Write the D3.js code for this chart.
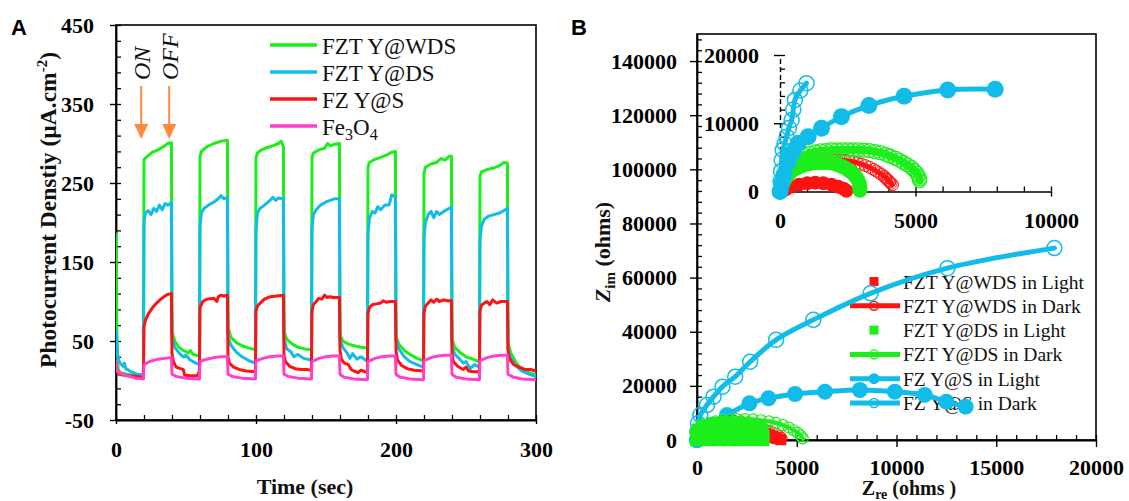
<!DOCTYPE html>
<html>
<head>
<meta charset="utf-8">
<script src="https://cdn.jsdelivr.net/npm/d3@7/dist/d3.min.js"></script>
<style>
  body { margin: 0; background: #fff; }
  svg { display: block; }
  .serif { font-family: "Liberation Serif", "Times New Roman", Times, "DejaVu Serif", serif; }
  .sans { font-family: "Liberation Sans", Arial, sans-serif; }
</style>
</head>
<body>
<svg id="chart" width="1129" height="501"></svg>
<script>
// ---------- panel A: photocurrent vs time, [t (s), j (µA/cm²)] ----------
const timeTicks = [0, 100, 200, 300];
const currentTicks = [-50, 50, 150, 250, 350, 450];
const switchTimes = [18, 38];
const switchLabels = ["ON", "OFF"];

const traceWDS = [
  [0,187],[0.6,60],[1.5,15],[3,10],[8,8],[14,6],[19.6,5],
  [20,280],[22,283],[26,289],[30,292],[34,296],[37,300],[39.6,301],
  [40,62],[42,50],[45,42],[48,38],[52,35],[53,38],[55,33],[59.6,31],
  [60,283],[61,290],[65,296],[70,300],[75,303],[79.6,304],
  [80,68],[82,55],[86,48],[90,44],[95,41],[99.6,39],
  [100,282],[101,288],[104,292],[108,295],[112,297],[116,300],[118,303],[119.6,296],
  [120,62],[122,52],[126,46],[130,42],[135,40],[139.6,39],
  [140,282],[141,288],[145,292],[149,294],[151,300],[153,297],[156,299],[159.6,300],
  [160,58],[162,50],[166,46],[170,44],[175,42],[179.6,41],
  [180,270],[181,276],[185,280],[190,283],[194,286],[197,289],[199.6,290],
  [200,56],[202,46],[206,38],[210,33],[215,28],[219.6,25],
  [220,262],[221,270],[225,274],[229,276],[232,281],[235,279],[238,284],[239.6,284],
  [240,52],[242,42],[246,35],[250,30],[255,27],[259.6,24],
  [260,258],[261,264],[265,267],[270,269],[274,272],[277,276],[279.6,275],
  [280,48],[282,35],[286,22],[290,14],[295,10],[300,7]
];
const traceDS = [
  [0,64],[1,35],[2,25],[3,22],[4,20],[5,18],[6,22],[7,15],[10,12],[15,8],[19.6,7],
  [20,200],[21,212],[23,215],[25,210],[27,218],[29,214],[31,222],[33,216],[35,224],[37,222],[39.6,225],
  [40,55],[42,42],[45,35],[48,30],[50,32],[53,26],[56,23],[59.6,20],
  [60,195],[61,212],[63,218],[66,222],[70,226],[73,230],[75,234],[77,230],[79.6,232],
  [80,55],[82,45],[86,36],[90,30],[95,25],[99.6,22],
  [100,190],[101,212],[103,218],[106,222],[110,228],[112,232],[114,228],[116,231],[119.6,230],
  [120,52],[122,40],[125,36],[127,30],[130,33],[134,28],[139.6,26],
  [140,192],[141,210],[143,216],[146,222],[150,226],[153,228],[156,230],[159.6,230],
  [160,52],[162,42],[165,35],[167,28],[169,34],[172,27],[175,30],[179.6,24],
  [180,185],[181,205],[183,214],[185,212],[187,220],[189,216],[192,222],[195,222],[197,235],[199.6,232],
  [200,52],[202,40],[206,30],[210,24],[215,20],[219.6,17],
  [220,180],[221,200],[223,210],[225,214],[227,206],[229,214],[231,210],[234,214],[237,217],[239.6,219],
  [240,44],[242,33],[245,28],[248,22],[250,24],[253,15],[256,20],[259.6,17],
  [260,178],[261,195],[263,204],[266,208],[270,210],[274,212],[277,215],[279.6,218],
  [280,40],[282,28],[286,18],[290,12],[295,8],[300,5]
];
const traceS = [
  [0,12],[2,8],[5,7],[10,6],[15,5],[19.6,4],
  [20,68],[21,76],[23,84],[26,92],[29,98],[32,103],[35,107],[37,109],[39.6,110],
  [40,34],[41,24],[43,17],[46,15],[48,14],[49,7],[53,6],[56,6],[58,6],[59.6,12],
  [60,92],[61,96],[62,100],[65,103],[70,104],[72,100],[73,106],[75,108],[77,107],[79.6,108],
  [80,30],[81,22],[84,17],[88,14],[93,12],[99.6,11],
  [100,88],[101,94],[103,98],[106,103],[110,106],[115,107],[119.6,108],
  [120,32],[121,24],[124,18],[128,15],[132,14],[136,14],[139.6,13],
  [140,88],[141,96],[143,100],[145,104],[147,103],[149,108],[151,105],[153,106],[155,105],[159.6,105],
  [160,38],[161,27],[163,22],[166,20],[168,14],[170,12],[173,10],[175,13],[179.6,10],
  [180,85],[181,92],[183,96],[186,97],[189,98],[191,101],[193,99],[196,100],[199.6,100],
  [200,38],[201,26],[204,19],[208,15],[213,13],[219.6,12],
  [220,86],[221,94],[223,98],[225,102],[227,99],[229,103],[231,100],[234,102],[237,101],[239.6,101],
  [240,34],[241,24],[244,18],[248,14],[250,17],[252,12],[255,11],[259.6,11],
  [260,88],[261,95],[263,98],[265,100],[267,96],[269,102],[272,98],[275,100],[279.6,100],
  [280,38],[281,28],[284,20],[288,17],[292,14],[296,14],[300,12]
];
const traceFe = [
  [0,26],[1,12],[3,9],[8,6],[14,3],[19.6,2],
  [20,20],[24,24],[30,27],[35,28],[39.6,29],
  [40,8],[43,5],[50,3],[59.6,2],
  [60,24],[65,27],[70,29],[75,30],[79.6,30],
  [80,8],[83,5],[90,3],[99.6,2],
  [100,25],[105,28],[110,30],[115,31],[119.6,31],
  [120,8],[123,5],[130,3],[139.6,2],
  [140,24],[145,28],[150,30],[155,31],[159.6,31],
  [160,8],[163,4],[170,2],[179.6,1],
  [180,24],[185,28],[190,30],[195,31],[199.6,31],
  [200,8],[203,4],[210,2],[219.6,1],
  [220,25],[225,29],[230,31],[235,32],[239.6,32],
  [240,8],[243,4],[250,2],[259.6,1],
  [260,25],[265,29],[270,31],[275,32],[279.6,32],
  [280,8],[284,4],[290,2],[300,1]
];

// ---------- panel B: Nyquist plots, [Zre, Zim] in ohms ----------
const zreTicks = [0, 5000, 10000, 15000, 20000];
const zimTicks = [0, 20000, 40000, 60000, 80000, 100000, 120000, 140000];
const insetZreTicks = [0, 5000, 10000];
const insetZimTicks = [0, 10000, 20000];

const sDarkMain = [
  [0,0],[20,3000],[50,6200],[165,9200],[500,12900],[830,16000],[1280,19700],[1915,23400],
  [2665,28900],[3965,37000],[5830,44400],[8700,54200],[12550,63500],[17915,70900]
];
const sLightMain = [
  [0,0],[300,2500],[700,5500],[1500,9200],[2630,13560],[3580,15400],[4915,17000],
  [6415,17860],[8165,18480],[9915,17860],[11415,16640],[12500,14160],[13465,12310]
];
const wdsLightMain = [
  [300,600],[900,900],[1600,700],[2300,700],[3000,900],[3600,900],[4000,500],[4200,100]
];
const wdsDarkMain = [
  [0,0],[150,1800],[300,3000],[550,4200],[800,5200],[1100,6100],[1400,6800],[1650,7200],
  [1900,7400],[2200,7300],[2500,6800],[2800,6100],[3100,5200],[3350,4500],[3600,3800],
  [3800,3200],[4000,2600],[4150,1800],[4250,1200],[4300,500]
];
const dsLightMain = [
  [0,300],[0,2000],[100,3500],[300,4600],[500,5300],[800,5800],[1100,6000],[1400,6100],
  [1700,6100],[2000,6100],[2300,6000],[2600,5700],[2850,5200],[3050,4500],[3200,3500],
  [3250,2400],[3280,1300],[3280,300],
  [400,1200],[800,2400],[1200,2800],[1600,2800],[2000,2800],[2400,2600],[2800,1800],
  [600,300],[1100,300],[1600,300],[2100,300],[2700,300]
];
const dsDarkMain = [
  [0,0],[80,2000],[200,3600],[400,5000],[650,6100],[950,6900],[1300,7400],[1650,7600],
  [2000,7700],[2400,7700],[2800,7600],[3200,7300],[3600,6900],[3950,6300],[4300,5500],
  [4600,4600],[4850,3600],[5050,2600],[5200,1600],[5300,600]
];

const sDarkInset = [
  [0,0],[20,1500],[40,3000],[62,4600],[100,6090],[170,7000],[245,8040],[330,9300],
  [429,10480],[490,12000],[551,13420],[750,14800],[980,15870]
];
const sLightInset = [
  [0,0],[60,1200],[150,2500],[300,4300],[480,5800],[673,7070],[1040,8040],[1533,9270],
  [2268,10970],[3280,12600],[4580,13950],[6190,14880],[7940,14990]
];
const wdsDarkInset = [
  [0,0],[80,800],[150,1500],[250,2100],[350,2600],[480,3000],[600,3400],[750,3700],
  [900,3950],[1050,4150],[1200,4300],[1350,4450],[1500,4550],[1650,4600],[1800,4650],
  [1950,4650],[2100,4650],[2250,4600],[2400,4550],[2550,4450],[2700,4350],[2850,4200],
  [3000,4000],[3150,3800],[3300,3550],[3450,3250],[3550,3000],[3650,2750],[3750,2500],
  [3850,2200],[3900,2000],[3950,1800],[4000,1600],[4050,1400],[4100,1200],[4150,1000]
];
const wdsLightInset = [
  [200,300],[400,700],[700,1000],[1000,1200],[1300,1300],[1600,1200],[1900,1000],
  [2150,700],[2350,400],[2450,100]
];
const dsLightInset = [
  [0,0],[40,500],[80,900],[130,1400],[200,1900],[280,2400],[380,2800],[500,3200],
  [650,3500],[800,3750],[950,3950],[1100,4100],[1250,4200],[1400,4250],[1550,4250],
  [1700,4250],[1850,4200],[2000,4100],[2150,3900],[2300,3650],[2450,3350],[2580,3000],
  [2700,2600],[2800,2150],[2880,1650],[2930,1100],[2950,600],[2950,200]
];
const dsDarkInset = [
  [0,0],[100,1300],[200,2500],[350,3500],[500,4300],[700,4900],[900,5300],[1100,5600],
  [1300,5800],[1500,5950],[1700,6000],[1900,6100],[2100,6100],[2300,6100],[2500,6100],
  [2700,6100],[2900,6100],[3100,6050],[3300,6000],[3500,5850],[3700,5700],[3900,5450],
  [4050,5200],[4250,4900],[4400,4600],[4550,4250],[4700,3900],[4850,3500],[4950,3100],
  [5050,2700],[5100,2300],[5150,1900],[5150,1600]
];

const GREEN = "#1cee1c", CYAN = "#12bce9", RED = "#ff1212", PINK = "#ff3fd0", ORANGE = "#ff8a3c";
const plainFmt = d => String(d);   // hyphen minus, no thousands separator

const svg = d3.select("#chart");

function styleAxis(g, fontSize) {
  g.attr("font-family", null);
  g.select(".domain").attr("stroke", "#000").attr("stroke-width", 1.8);
  g.selectAll(".tick line").attr("stroke", "#000").attr("stroke-width", 1.4);
  g.selectAll(".tick text")
    .attr("class", "serif").attr("font-weight", "bold")
    .attr("font-size", fontSize).attr("fill", "#000");
}

function minorTicks(g, axis) {
  g.call(axis);
  g.select(".domain").remove();
  g.selectAll(".tick text").remove();
  g.selectAll(".tick line").attr("stroke", "#000").attr("stroke-width", 1.3);
}

// ================= Panel A =================
const ax = d3.scaleLinear().domain([0, 300]).range([116, 536]);
const ay = d3.scaleLinear().domain([-50, 450]).range([420, 25]);
const gA = svg.append("g");

gA.append("defs").append("clipPath").attr("id", "clipA")
  .append("rect")
  .attr("x", ax.range()[0]).attr("y", ay.range()[1])
  .attr("width", ax.range()[1] - ax.range()[0])
  .attr("height", ay.range()[0] - ay.range()[1]);

gA.append("rect")
  .attr("x", ax.range()[0]).attr("y", ay.range()[1])
  .attr("width", ax.range()[1] - ax.range()[0])
  .attr("height", ay.range()[0] - ay.range()[1])
  .attr("fill", "none").attr("stroke", "#000").attr("stroke-width", 1.6);

minorTicks(gA.append("g").attr("transform", `translate(${ax.range()[0]},0)`),
  d3.axisLeft(ay).tickValues(d3.range(-50, 451, 20)).tickSize(-5).tickSizeOuter(0));
minorTicks(gA.append("g").attr("transform", `translate(0,${ay.range()[0]})`),
  d3.axisBottom(ax).tickValues(d3.range(0, 301, 20)).tickSize(-5).tickSizeOuter(0));

const aYAxis = gA.append("g").attr("transform", `translate(${ax.range()[0]},0)`)
  .call(d3.axisLeft(ay).tickValues(currentTicks).tickFormat(plainFmt)
    .tickSize(6).tickPadding(16).tickSizeOuter(0));
styleAxis(aYAxis, 22);
const aXAxis = gA.append("g").attr("transform", `translate(0,${ay.range()[0]})`)
  .call(d3.axisBottom(ax).tickValues(timeTicks).tickFormat(plainFmt)
    .tickSize(4).tickPadding(17).tickSizeOuter(0));
styleAxis(aXAxis, 22);

const lineA = d3.line().x(d => ax(d[0])).y(d => ay(d[1]));
const tracesA = [
  { name: ["FZT Y@WDS"], data: traceWDS, color: GREEN },
  { name: ["FZT Y@DS"], data: traceDS, color: CYAN },
  { name: ["FZ Y@S"], data: traceS, color: RED },
  { name: ["Fe", "3", "O", "4"], data: traceFe, color: PINK }
];
const plotA = gA.append("g").attr("clip-path", "url(#clipA)");
tracesA.forEach(s => {
  plotA.append("path").attr("d", lineA(s.data))
    .attr("fill", "none").attr("stroke", s.color).attr("stroke-width", 3)
    .attr("stroke-linejoin", "round");
});

// legend A
tracesA.forEach((s, i) => {
  const y = 45 + i * 27;
  gA.append("line").attr("x1", 270).attr("x2", 317).attr("y1", y).attr("y2", y)
    .attr("stroke", s.color).attr("stroke-width", 3.5);
  const t = gA.append("text").attr("class", "serif").attr("x", 322).attr("y", y + 8.5)
    .attr("font-size", 23).attr("fill", "#111");
  s.name.forEach((part, k) => {
    const sub = k % 2 === 1;
    t.append("tspan").attr("font-size", sub ? 16 : 23)
      .attr("dy", sub ? 5 : (k > 0 ? -5 : 0)).text(part);
  });
});

// ON / OFF arrows
switchTimes.forEach((t, i) => {
  const x = ax(t);
  gA.append("line").attr("x1", x).attr("x2", x).attr("y1", 86).attr("y2", 125)
    .attr("stroke", ORANGE).attr("stroke-width", 2);
  gA.append("path").attr("d", `M${x - 7},124 L${x + 7},124 L${x},139 Z`).attr("fill", ORANGE);
  gA.append("text").attr("class", "serif")
    .attr("transform", `translate(${x + 9},80) rotate(-90)`)
    .attr("font-style", "italic").attr("font-size", 24)
    .attr("fill", "#111").text(switchLabels[i]);
});

// titles A
const aYTitle = gA.append("text").attr("class", "serif")
  .attr("transform", "translate(56,210) rotate(-90)")
  .attr("text-anchor", "middle").attr("font-weight", "bold")
  .attr("font-size", 23.5).attr("fill", "#111");
aYTitle.append("tspan").text("Photocurrent Denstiy (µA.cm");
aYTitle.append("tspan").attr("font-size", 15).attr("dy", -9).text("-2");
aYTitle.append("tspan").attr("dy", 9).text(")");

gA.append("text").attr("class", "serif").attr("x", 305).attr("y", 494)
  .attr("text-anchor", "middle").attr("font-weight", "bold").attr("font-size", 22)
  .attr("fill", "#111").text("Time (sec)");

svg.append("text").attr("class", "sans").attr("x", 11).attr("y", 35)
  .attr("font-weight", "bold").attr("font-size", 22).text("A");

// ================= Panel B =================
const bx = d3.scaleLinear().domain([0, 20000]).range([697, 1096]);
const by = d3.scaleLinear().domain([0, 150000]).range([440, 34]);
const ix = d3.scaleLinear().domain([0, 10000]).range([780, 1051]);
const iy = d3.scaleLinear().domain([0, 20000]).range([191.5, 55]);
const gB = svg.append("g");

gB.append("rect")
  .attr("x", bx.range()[0]).attr("y", by.range()[1])
  .attr("width", bx.range()[1] - bx.range()[0])
  .attr("height", by.range()[0] - by.range()[1])
  .attr("fill", "none").attr("stroke", "#000").attr("stroke-width", 1.6);

minorTicks(gB.append("g").attr("transform", `translate(${bx.range()[0]},0)`),
  d3.axisLeft(by).tickValues(d3.range(0, 150001, 4000)).tickSize(-5).tickSizeOuter(0));
minorTicks(gB.append("g").attr("transform", `translate(0,${by.range()[0]})`),
  d3.axisBottom(bx).tickValues(d3.range(0, 20001, 1000)).tickSize(-5).tickSizeOuter(0));

const bYAxis = gB.append("g").attr("transform", `translate(${bx.range()[0]},0)`)
  .call(d3.axisLeft(by).tickValues(zimTicks).tickFormat(plainFmt)
    .tickSize(7).tickPadding(13).tickSizeOuter(0));
styleAxis(bYAxis, 22);
const bXAxis = gB.append("g").attr("transform", `translate(0,${by.range()[0]})`)
  .call(d3.axisBottom(bx).tickValues(zreTicks).tickFormat(plainFmt)
    .tickSize(7).tickPadding(12).tickSizeOuter(0));
styleAxis(bXAxis, 22);

// inset axes
minorTicks(gB.append("g").attr("transform", `translate(${ix.range()[0]},0)`),
  d3.axisLeft(iy).tickValues(d3.range(0, 20001, 2000)).tickSize(-5).tickSizeOuter(0));
minorTicks(gB.append("g").attr("transform", `translate(0,${iy.range()[0]})`),
  d3.axisBottom(ix).tickValues(d3.range(0, 10001, 1000)).tickSize(-5).tickSizeOuter(0));
const iYAxis = gB.append("g").attr("transform", `translate(${ix.range()[0]},0)`)
  .call(d3.axisLeft(iy).tickValues(insetZimTicks).tickFormat(plainFmt)
    .tickSize(6).tickPadding(15).tickSizeOuter(0));
styleAxis(iYAxis, 22);
iYAxis.select(".domain").attr("stroke-dasharray", "5,3").attr("stroke-width", 1.4);
const iXAxis = gB.append("g").attr("transform", `translate(0,${iy.range()[0]})`)
  .call(d3.axisBottom(ix).tickValues(insetZreTicks).tickFormat(plainFmt)
    .tickSize(5).tickPadding(16).tickSizeOuter(0));
styleAxis(iXAxis, 22);
iXAxis.select(".domain").attr("stroke-width", 1.5);

// legend B (drawn under the data, as in the original)
const legendB = [
  { label: "FZT Y@WDS in Light", color: RED, line: false, marker: "square" },
  { label: "FZT Y@WDS in Dark", color: RED, line: true, marker: "open" },
  { label: "FZT Y@DS in Light", color: GREEN, line: false, marker: "square" },
  { label: "FZT Y@DS in Dark", color: GREEN, line: true, marker: "open" },
  { label: "FZ Y@S in Light", color: CYAN, line: true, marker: "filled" },
  { label: "FZ Y@S in Dark", color: CYAN, line: true, marker: "open" }
];
legendB.forEach((d, i) => {
  const y = 281.5 + i * 24.3;
  const cx = 874;
  if (d.line) {
    gB.append("line").attr("x1", 850).attr("x2", 900).attr("y1", y).attr("y2", y)
      .attr("stroke", d.color).attr("stroke-width", 5);
  }
  if (d.marker === "square") {
    gB.append("rect").attr("x", cx - 4.5).attr("y", y - 4.5).attr("width", 9).attr("height", 9)
      .attr("fill", d.color);
  } else if (d.marker === "filled") {
    gB.append("circle").attr("cx", cx).attr("cy", y).attr("r", 5.5).attr("fill", d.color);
  } else {
    gB.append("circle").attr("cx", cx).attr("cy", y).attr("r", 4.5)
      .attr("fill", "none").attr("stroke", d.color).attr("stroke-width", 1.4);
  }
  gB.append("text").attr("class", "serif").attr("x", 903).attr("y", y + 7)
    .attr("font-size", 19.5).attr("fill", "#111").text(d.label);
});

function drawSeries(g, data, xs, ys, o) {
  if (o.lineWidth) {
    g.append("path")
      .attr("d", d3.line().x(d => xs(d[0])).y(d => ys(d[1])).curve(d3.curveCatmullRom)(data))
      .attr("fill", "none").attr("stroke", o.color).attr("stroke-width", o.lineWidth)
      .attr("stroke-linejoin", "round").attr("stroke-linecap", "round");
  }
  if (o.marker === "square") {
    g.selectAll(null).data(data).join("rect")
      .attr("x", d => xs(d[0]) - o.size / 2).attr("y", d => ys(d[1]) - o.size / 2)
      .attr("width", o.size).attr("height", o.size).attr("fill", o.color);
  } else if (o.marker === "filled") {
    g.selectAll(null).data(data).join("circle")
      .attr("cx", d => xs(d[0])).attr("cy", d => ys(d[1])).attr("r", o.size)
      .attr("fill", o.color);
  } else if (o.marker === "open") {
    g.selectAll(null).data(data).join("circle")
      .attr("cx", d => xs(d[0])).attr("cy", d => ys(d[1])).attr("r", o.size)
      .attr("fill", "none").attr("stroke", o.color).attr("stroke-width", o.stroke || 1.3);
  }
}

// main plot series
const mainG = gB.append("g");
drawSeries(mainG, sDarkMain, bx, by, { color: CYAN, lineWidth: 5, marker: "open", size: 7.5, stroke: 1.5 });
drawSeries(mainG, sLightMain, bx, by, { color: CYAN, lineWidth: 5, marker: "filled", size: 8 });
drawSeries(mainG, wdsLightMain, bx, by, { color: RED, marker: "square", size: 11 });
drawSeries(mainG, wdsDarkMain, bx, by, { color: RED, lineWidth: 4, marker: "open", size: 4.5, stroke: 1 });
drawSeries(mainG, dsLightMain, bx, by, { color: GREEN, marker: "square", size: 14 });
drawSeries(mainG, dsDarkMain, bx, by, { color: GREEN, lineWidth: 4, marker: "open", size: 5.5, stroke: 1.2 });

// inset series
const insetG = gB.append("g");
drawSeries(insetG, wdsDarkInset, ix, iy, { color: RED, lineWidth: 5, marker: "open", size: 6, stroke: 1 });
drawSeries(insetG, wdsLightInset, ix, iy, { color: RED, marker: "filled", size: 7 });
drawSeries(insetG, dsDarkInset, ix, iy, { color: GREEN, lineWidth: 8, marker: "open", size: 7, stroke: 1.3 });
drawSeries(insetG, dsLightInset, ix, iy, { color: GREEN, marker: "filled", size: 7.5 });
drawSeries(insetG, sDarkInset, ix, iy, { color: CYAN, lineWidth: 5, marker: "open", size: 7.5, stroke: 1.5 });
drawSeries(insetG, sLightInset, ix, iy, { color: CYAN, lineWidth: 5, marker: "filled", size: 8.5 });

// titles B
const bXTitle = gB.append("text").attr("class", "serif").attr("x", 909).attr("y", 495)
  .attr("text-anchor", "middle").attr("font-weight", "bold").attr("font-size", 20).attr("fill", "#111");
bXTitle.append("tspan").text("Z");
bXTitle.append("tspan").attr("font-size", 14).attr("dy", 4).text("re");
bXTitle.append("tspan").attr("dy", -4).text(" (ohms )");

const bYTitle = gB.append("text").attr("class", "serif")
  .attr("transform", "translate(610,252) rotate(-90)")
  .attr("text-anchor", "middle").attr("font-weight", "bold")
  .attr("font-size", 22).attr("fill", "#111");
bYTitle.append("tspan").attr("font-style", "italic").text("Z");
bYTitle.append("tspan").attr("font-size", 15).attr("dy", 5).text("im");
bYTitle.append("tspan").attr("dy", -5).text(" (ohms)");

svg.append("text").attr("class", "sans").attr("x", 571).attr("y", 35)
  .attr("font-weight", "bold").attr("font-size", 22).text("B");
</script>
</body>
</html>
